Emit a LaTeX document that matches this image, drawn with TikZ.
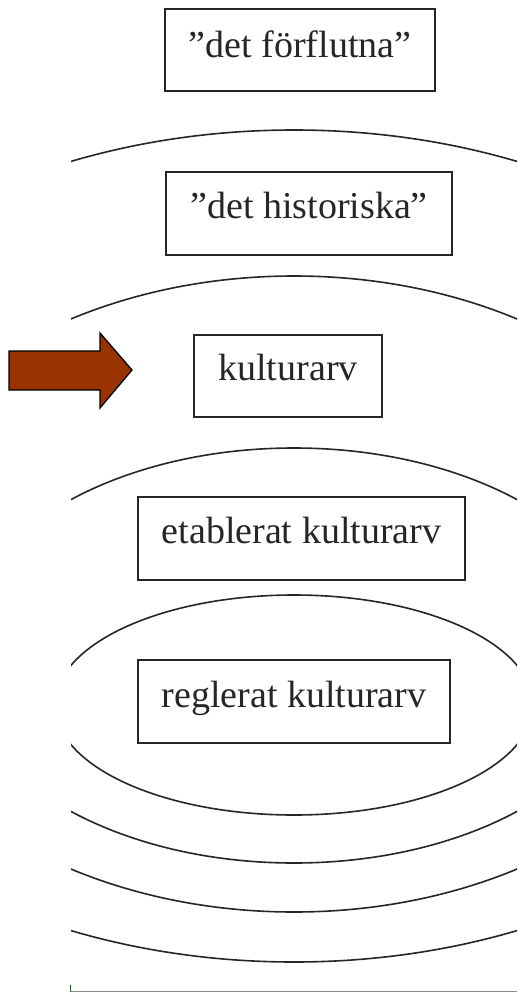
\documentclass[tikz,border=0pt]{standalone}
\usepackage{fontspec}
\setmainfont{Liberation Serif}
\definecolor{arrowbrown}{HTML}{993300}
\definecolor{edgegray}{HTML}{8C8C8C}
\definecolor{tickgreen}{HTML}{1E5A2A}
\begin{document}
\begin{tikzpicture}[x=1pt,y=-1pt,
  box/.style={draw=black!85, line width=1.4pt, fill=white, inner sep=0pt,
    text height=46pt, font=\fontsize{38}{40}\selectfont, text=black!85},
  ring/.style={draw=black!85, line width=1.6pt}]
\useasboundingbox (0,0) rectangle (517,993);
\fill[white] (0,0) rectangle (517,993);
% concentric ellipses, clipped
\begin{scope}
  \clip (71,0) rectangle (517,993);
  \draw[ring] (294,546) ellipse [x radius=584, y radius=416];
  \draw[ring] (294,594) ellipse [x radius=444, y radius=318];
  \draw[ring] (294,655.5) ellipse [x radius=338, y radius=207.5];
  \draw[ring] (294,705) ellipse [x radius=239, y radius=110];
\end{scope}
% boxes
\node[box, minimum width=270pt, minimum height=82pt, text height=48pt, text depth=34pt] (forflutna) at (300,50) {”det förflutna”};
\node[box, minimum width=286pt, minimum height=83pt, text depth=37pt] (historiska) at (309,213.5) {”det historiska”};
\node[box, minimum width=188pt, minimum height=82pt, text height=45pt, text depth=37pt] (kulturarv) at (288,376) {kulturarv};
\node[box, minimum width=327pt, minimum height=83pt, text depth=37pt] (etablerat) at (301.5,538.5) {etablerat kulturarv};
\node[box, minimum width=312pt, minimum height=83pt, text height=47pt, text depth=36pt] (reglerat) at (294,701.5) {reglerat kulturarv};
% arrow
\draw[fill=arrowbrown, draw=black, line width=1.3pt, line join=miter]
  (9,351) -- (100,351) -- (100,333) -- (132,370) -- (100,408) -- (100,390) -- (9,390) -- cycle;
% bottom edge
\draw[edgegray, line width=1.2pt] (70,991.5) -- (517,991.5);
\draw[tickgreen, line width=0.8pt] (70,985) -- (70,992);
\end{tikzpicture}
\end{document}
